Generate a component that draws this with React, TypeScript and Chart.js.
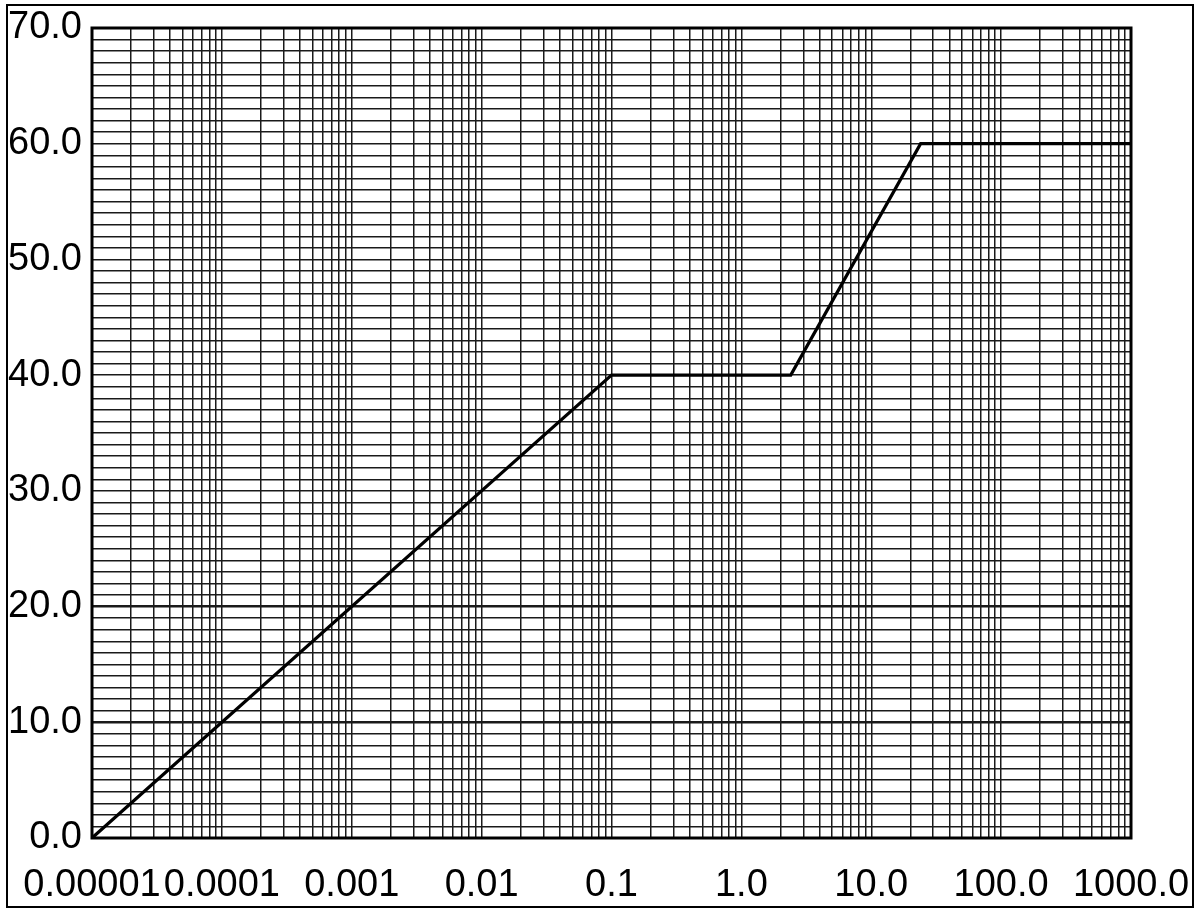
import React, { useEffect, useRef } from "react";
import { Chart, registerables } from "chart.js";

Chart.register(...registerables);

// Data series
const xValues: number[] = [0.00001, 0.1, 2.4, 24, 1000];
const yValues: number[] = [0, 40, 40, 60, 60];

// Axis ticks
const xTickValues: number[] = [0.00001, 0.0001, 0.001, 0.01, 0.1, 1, 10, 100, 1000];
const xTickLabels: string[] = ["0.00001", "0.0001", "0.001", "0.01", "0.1", "1.0", "10.0", "100.0", "1000.0"];
const yMin = 0;
const yMax = 70;
const yGridStep = 1;
const yLabelStep = 10;
const yHeavyLines: number[] = [10, 20];

// Minor grid values (1..9 per decade)
const xGridValues: number[] = [];
for (let i = 0; i < xTickValues.length - 1; i++) {
  for (let k = 1; k <= 9; k++) xGridValues.push(xTickValues[i] * k);
}
xGridValues.push(xTickValues[xTickValues.length - 1]);

const FONT = { family: "'Liberation Sans', Arial, sans-serif", size: 38 };

export default function App() {
  const ref = useRef<HTMLCanvasElement | null>(null);

  useEffect(() => {
    if (!ref.current) return;
    const framePlugin = {
      id: "frame",
      afterDraw(chart: any) {
        const { ctx, chartArea } = chart;
        ctx.save();
        ctx.strokeStyle = "#000";
        ctx.lineWidth = 3;
        ctx.strokeRect(chartArea.left, chartArea.top, chartArea.right - chartArea.left, chartArea.bottom - chartArea.top);
        ctx.lineWidth = 2;
        ctx.strokeRect(7, 5, 1186, 902);
        ctx.restore();
      },
    };
    const chart = new Chart(ref.current, {
      type: "line",
      data: {
        datasets: [
          {
            data: xValues.map((x, i) => ({ x, y: yValues[i] })),
            borderColor: "#000",
            borderWidth: 3.2,
            pointRadius: 0,
            tension: 0,
            fill: false,
          },
        ],
      },
      options: {
        responsive: false,
        animation: false,
        layout: { padding: { left: 0, top: 28, right: 68, bottom: 12 } },
        plugins: { legend: { display: false }, tooltip: { enabled: false }, title: { display: false } },
        scales: {
          x: {
            type: "logarithmic",
            min: xTickValues[0],
            max: xTickValues[xTickValues.length - 1],
            border: { display: false },
            grid: { color: "#1a1a1a", lineWidth: 1.5, drawTicks: false },
            afterBuildTicks: (scale: any) => {
              scale.ticks = xGridValues.map((v) => ({ value: v }));
            },
            afterFit: (scale: any) => {
              scale.height = 60;
              scale.paddingLeft = 0;
              scale.paddingRight = 0;
            },
            ticks: {
              autoSkip: false,
              maxRotation: 0,
              minRotation: 0,
              padding: 25,
              color: "#000",
              font: FONT,
              callback: (value: any) => {
                const v = Number(value);
                const i = xTickValues.findIndex((t) => Math.abs(t - v) / t < 1e-9);
                return i >= 0 ? xTickLabels[i] : "";
              },
            },
          },
          y: {
            type: "linear",
            min: yMin,
            max: yMax,
            border: { display: false },
            grid: {
              color: "#1a1a1a",
              drawTicks: false,
              lineWidth: (c: any) => (yHeavyLines.includes(c.tick?.value) ? 2.5 : 1.5),
            },
            afterFit: (scale: any) => {
              scale.width = 92;
              scale.paddingTop = 0;
              scale.paddingBottom = 0;
            },
            ticks: {
              stepSize: yGridStep,
              autoSkip: false,
              padding: 10,
              color: "#000",
              font: FONT,
              callback: (value: any) => {
                const v = Number(value);
                return v % yLabelStep === 0 ? v.toFixed(1) : "";
              },
            },
          },
        },
      },
      plugins: [framePlugin],
    } as any);
    return () => chart.destroy();
  }, []);

  return (
    <div style={{ position: "absolute", left: 0, top: 0, width: 1199, height: 910, background: "#fff" }}>
      <canvas ref={ref} width={1199} height={910} style={{ width: 1199, height: 910, display: "block" }} />
    </div>
  );
}
